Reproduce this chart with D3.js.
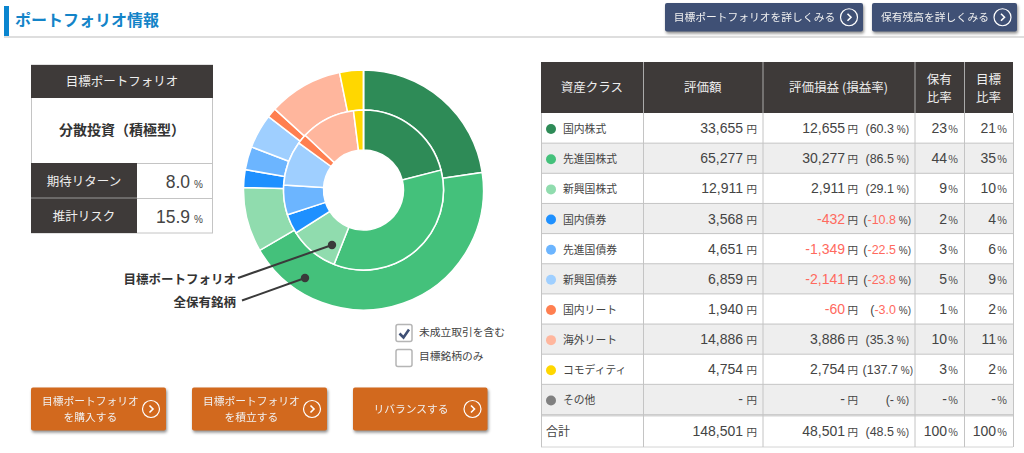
<!DOCTYPE html>
<html lang="ja">
<head>
<meta charset="utf-8">
<title>ポートフォリオ情報</title>
<script src="https://cdn.jsdelivr.net/npm/d3@7"></script>
<style>
html, body { margin: 0; padding: 0; background: #fff; overflow: hidden; }
svg { display: block; }
text { font-family: "Noto Sans CJK JP", "Noto Sans", sans-serif; }
.num { font-family: "Liberation Sans", Arial, sans-serif; }
.btn { filter: drop-shadow(1px 2px 1.5px rgba(0,0,0,0.45)); }
</style>
</head>
<body>
<svg id="chart" width="1024" height="453"></svg>
<script>
"use strict";

const categories = ["国内株式", "先進国株式", "新興国株式", "国内債券", "先進国債券", "新興国債券", "国内リート", "海外リート", "コモディティ", "その他"];
const colors = ["#2e8b57", "#44c17b", "#90dcae", "#1e90ff", "#6cb5ff", "#9fcfff", "#ff7f50", "#ffb69d", "#ffd700", "#808080"];
const amounts = [33655, 65277, 12911, 3568, 4651, 6859, 1940, 14886, 4754, 0];
const amountLabels = ["33,655", "65,277", "12,911", "3,568", "4,651", "6,859", "1,940", "14,886", "4,754", "-"];
const gainLabels = ["12,655", "30,277", "2,911", "-432", "-1,349", "-2,141", "-60", "3,886", "2,754", "-"];
const rateLabels = ["60.3", "86.5", "29.1", "-10.8", "-22.5", "-23.8", "-3.0", "35.3", "137.7", "-"];
const heldRatio = ["23", "44", "9", "2", "3", "5", "1", "10", "3", "-"];
const targetRatio = [21, 35, 10, 4, 6, 9, 2, 11, 2, 0];
const headers = ["資産クラス", "評価額", "評価損益 (損益率)", ["保有", "比率"], ["目標", "比率"]];
const total = ["合計", "148,501", "48,501", "48.5", "100", "100"];

const svg = d3.select("#chart");
const dark = "#3e3a39";
const gridc = "#c4c4c4";
const textc = "#444";

// header
svg.append("rect").attr("x", 4).attr("y", 6).attr("width", 5).attr("height", 31).attr("fill", "#0a85cf");
svg.append("rect").attr("x", 4).attr("y", 36).attr("width", 1020).attr("height", 2).attr("fill", "#dedede");
svg.append("text").attr("x", 15).attr("y", 26).attr("font-size", 16).attr("font-weight", 700)
    .attr("fill", "#1384c8").text("ポートフォリオ情報");

function arrow(g, cx, cy, r) {
    g.append("circle").attr("cx", cx).attr("cy", cy).attr("r", r)
        .attr("fill", "none").attr("stroke", "#fff").attr("stroke-width", 1.2);
    g.append("path").attr("d", `M${cx - 1.5},${cy - 3.5}L${cx + 2},${cy}L${cx - 1.5},${cy + 3.5}`)
        .attr("fill", "none").attr("stroke", "#fff").attr("stroke-width", 1.6);
}

function button(x, y, w, h, fill, lines, tx, fs, ax) {
    let g = svg.append("g").attr("class", "btn");
    g.append("rect").attr("x", x).attr("y", y).attr("width", w).attr("height", h).attr("rx", 2).attr("fill", fill);
    lines.forEach(function(l, i) {
        let ty = y + h / 2 + fs * 0.36 + (i - (lines.length - 1) / 2) * 16;
        g.append("text").attr("x", tx).attr("y", ty).attr("text-anchor", "middle")
            .attr("font-size", fs).attr("fill", "#f0f0f0").text(l);
    });
    arrow(g, ax, y + h / 2, 8.5);
}

button(665, 3, 198, 28.5, "#3f5075", ["目標ポートフォリオを詳しくみる"], 754.5, 10.75, 849);
button(872, 3, 145, 28.5, "#3f5075", ["保有残高を詳しくみる"], 935, 10.75, 1002.5);
button(31, 387.5, 135, 43, "#d2691e", ["目標ポートフォリオ", "を購入する"], 90.5, 10.75, 151);
button(192, 387.5, 135, 43, "#d2691e", ["目標ポートフォリオ", "を積立する"], 251.5, 10.75, 312);
button(353, 387.5, 134.5, 43, "#d2691e", ["リバランスする"], 411, 10.75, 472.5);

// left box
const box = svg.append("g");
box.append("rect").attr("x", 31.5).attr("y", 65).attr("width", 181).attr("height", 168).attr("fill", "#fff").attr("stroke", gridc);
box.append("rect").attr("x", 31).attr("y", 65).attr("width", 182).attr("height", 33).attr("fill", dark);
box.append("text").attr("x", 122).attr("y", 86).attr("text-anchor", "middle").attr("font-size", 12.5).attr("fill", "#eee").text("目標ポートフォリオ");
box.append("text").attr("x", 122).attr("y", 135).attr("text-anchor", "middle").attr("font-size", 14).attr("font-weight", 700).attr("fill", "#333").text("分散投資（積極型）");
[["期待リターン", "8.0", 163], ["推計リスク", "15.9", 198]].forEach(function(d) {
    box.append("rect").attr("x", 31).attr("y", d[2]).attr("width", 106).attr("height", 35).attr("fill", dark);
    box.append("line").attr("x1", 137).attr("x2", 213).attr("y1", d[2] + 0.5).attr("y2", d[2] + 0.5).attr("stroke", gridc);
    box.append("text").attr("x", 84).attr("y", d[2] + 23).attr("text-anchor", "middle").attr("font-size", 12.5).attr("fill", "#eee").text(d[0]);
    box.append("text").attr("class", "num").attr("x", 190).attr("y", d[2] + 25).attr("text-anchor", "end").attr("font-size", 17.5).attr("fill", textc).text(d[1]);
    box.append("text").attr("class", "num").attr("x", 203).attr("y", d[2] + 25).attr("text-anchor", "end").attr("font-size", 10).attr("fill", textc).text("%");
});
box.append("line").attr("x1", 31).attr("x2", 137).attr("y1", 198).attr("y2", 198).attr("stroke", "#999");

// donut: outer = holdings, inner = target
const pie = d3.pie().sort(null).value(d => d);
const donut = svg.append("g").attr("transform", "translate(363.5,190)");
const rings = [
    { values: amounts, inner: 80, outer: 120 },
    { values: targetRatio, inner: 40, outer: 80 }
];
rings.forEach(function(ring) {
    let arc = d3.arc().innerRadius(ring.inner).outerRadius(ring.outer);
    donut.append("g").selectAll("path").data(pie(ring.values)).join("path")
        .attr("d", arc)
        .attr("fill", (d, i) => colors[i])
        .attr("stroke", "#fff").attr("stroke-width", 1.5);
});

// callouts
[["目標ポートフォリオ", 236, 284, 238, 278, 332, 245], ["全保有銘柄", 236, 307, 242, 300.5, 305, 278]].forEach(function(d) {
    svg.append("text").attr("x", d[1]).attr("y", d[2]).attr("text-anchor", "end").attr("font-size", 12.5).attr("font-weight", 700).attr("fill", "#333").text(d[0]);
    svg.append("line").attr("x1", d[3]).attr("y1", d[4]).attr("x2", d[5]).attr("y2", d[6]).attr("stroke", "#3a3a3a").attr("stroke-width", 2);
    svg.append("circle").attr("cx", d[5]).attr("cy", d[6]).attr("r", 4.2).attr("fill", "#3a3a3a");
});

// check boxes
[["未成立取引を含む", 324.5, 335.5, true], ["目標銘柄のみ", 349.5, 359.5, false]].forEach(function(d) {
    svg.append("rect").attr("x", 396).attr("y", d[1]).attr("width", 16).attr("height", 17).attr("rx", 2)
        .attr("fill", "#fff").attr("stroke", "#b5b5b5").attr("stroke-width", 1.5);
    if (d[3]) {
        svg.append("path").attr("d", `M399.5,${d[1] + 9}L403.5,${d[1] + 13}L409,${d[1] + 5}`)
            .attr("fill", "none").attr("stroke", "#3f5075").attr("stroke-width", 2.6);
    }
    svg.append("text").attr("x", 419).attr("y", d[2]).attr("font-size", 10.75).attr("fill", textc).text(d[0]);
});

// table
const colX = [541, 643, 762.5, 914.5, 964, 1013];
const rowY = d3.scaleBand().domain(categories).range([113, 414.5]);
const table = svg.append("g");

table.append("rect").attr("x", colX[0]).attr("y", 62).attr("width", colX[5] - colX[0]).attr("height", 51).attr("fill", dark);
headers.forEach(function(h, i) {
    let cx = (colX[i] + colX[i + 1]) / 2;
    if (Array.isArray(h)) {
        h.forEach(function(t, k) {
            table.append("text").attr("x", cx).attr("y", 84 + k * 18).attr("text-anchor", "middle").attr("font-size", 12.5).attr("fill", "#eee").text(t);
        });
    } else {
        table.append("text").attr("x", cx).attr("y", 92).attr("text-anchor", "middle").attr("font-size", 12.5).attr("fill", "#eee").text(h);
    }
});

function numCell(g, y, xNum, xUnit, value, unit, fill) {
    g.append("text").attr("class", "num").attr("x", xNum).attr("y", y).attr("text-anchor", "end")
        .attr("font-size", 14).attr("fill", fill || textc).text(value);
    g.append("text").attr("x", xUnit).attr("y", y).attr("text-anchor", "end")
        .attr("font-size", 10.5).attr("fill", textc).text(unit);
}

function rateCell(g, y, label) {
    let neg = label.startsWith("-") && label !== "-";
    let xEnd = neg ? 911 : (label.length > 4 ? 913 : 909);
    let t = g.append("text").attr("class", "num").attr("x", xEnd).attr("y", y).attr("text-anchor", "end")
        .attr("font-size", 12.5).attr("fill", textc);
    t.append("tspan").text("(");
    t.append("tspan").attr("fill", neg ? "#ff6a5e" : textc).text(label);
    t.append("tspan").attr("font-size", 10).text(" %)");
}

function fillRow(g, base, values) {
    numCell(g, base, 743, 757, values[0], "円");
    let neg = values[1].startsWith("-") && values[1] !== "-";
    numCell(g, base, 845, 858, values[1], "円", neg ? "#ff6a5e" : textc);
    rateCell(g, base, values[2]);
    numCell(g, base, 947, 958, values[3], "%");
    numCell(g, base, 996, 1007, values[4], "%");
}

const rows = table.selectAll("g.row").data(categories).join("g").attr("class", "row");
rows.append("rect").attr("x", colX[0]).attr("y", d => rowY(d)).attr("width", colX[5] - colX[0]).attr("height", rowY.bandwidth())
    .attr("fill", (d, i) => i % 2 ? "#eeeeee" : "#fff");
rows.append("circle").attr("cx", 551).attr("cy", d => rowY(d) + rowY.bandwidth() / 2 + 1).attr("r", 5).attr("fill", (d, i) => colors[i]);
rows.append("text").attr("x", 563).attr("y", d => rowY(d) + rowY.bandwidth() / 2 + 5).attr("font-size", 10.8).attr("fill", textc).text(d => d);
rows.each(function(d, i) {
    let t = i < 9 ? String(targetRatio[i]) : "-";
    fillRow(d3.select(this), rowY(d) + rowY.bandwidth() / 2 + 5, [amountLabels[i], gainLabels[i], rateLabels[i], heldRatio[i], t]);
});

// horizontal rules
table.selectAll("line.h").data(categories).join("line").attr("class", "h")
    .attr("x1", colX[0]).attr("x2", colX[5]).attr("y1", d => rowY(d) + rowY.bandwidth()).attr("y2", d => rowY(d) + rowY.bandwidth())
    .attr("stroke", gridc).attr("stroke-width", 1);
table.append("rect").attr("x", colX[0]).attr("y", 414.5).attr("width", colX[5] - colX[0]).attr("height", 2).attr("fill", "#d4d4d4");

// total row
table.append("text").attr("x", 546).attr("y", 436).attr("font-size", 12).attr("fill", textc).text(total[0]);
fillRow(table, 436, [total[1], total[2], total[3], total[4], total[5]]);
table.append("line").attr("x1", colX[0]).attr("x2", colX[5]).attr("y1", 447).attr("y2", 447).attr("stroke", "#d4d4d4").attr("stroke-width", 1);

// vertical rules
colX.forEach(function(x, i) {
    table.append("line").attr("x1", x + 0.5).attr("x2", x + 0.5).attr("y1", 113).attr("y2", 447).attr("stroke", gridc);
    if (i > 0 && i < 5) table.append("line").attr("x1", x + 0.5).attr("x2", x + 0.5).attr("y1", 62).attr("y2", 113).attr("stroke", "#aaa");
});
</script>
</body>
</html>
